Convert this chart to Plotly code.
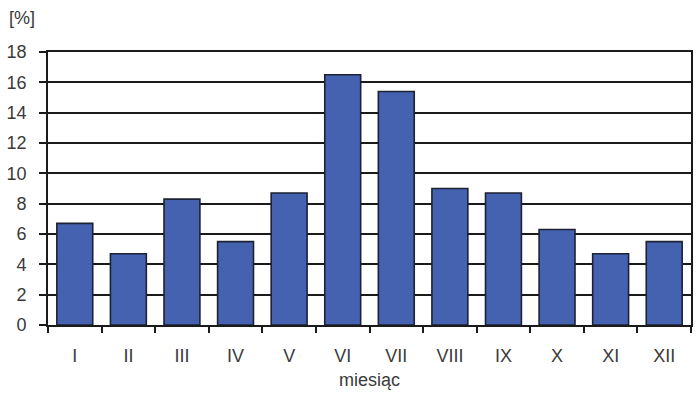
import plotly.graph_objects as go

months = ["I", "II", "III", "IV", "V", "VI", "VII", "VIII", "IX", "X", "XI", "XII"]
values = [6.7, 4.7, 8.3, 5.5, 8.7, 16.5, 15.4, 9.0, 8.7, 6.3, 4.7, 5.5]
y_ticks = [0, 2, 4, 6, 8, 10, 12, 14, 16, 18]

fig = go.Figure()
fig.add_trace(go.Bar(
    x=months, y=values,
    marker=dict(color="#4462B0", line=dict(color="#1c2233", width=1.6)),
    width=0.67,
))

font_color = "#3a3a3a"
fs = 18
fig.update_layout(
    width=700, height=402,
    margin=dict(l=48, r=7, t=52, b=77),
    paper_bgcolor="white", plot_bgcolor="white",
    showlegend=False,
    font=dict(family="Liberation Sans, Arial, sans-serif", size=fs, color=font_color),
    xaxis=dict(
        showline=True, linecolor="#1a1a1a", linewidth=1.6,
        ticks="outside", tickson="boundaries", ticklen=6, tickcolor="#1a1a1a", tickwidth=1.6,
        tickfont=dict(size=fs, color=font_color), ticklabelstandoff=14,
        showgrid=False, mirror=True,
        title=dict(text="miesiąc", font=dict(size=fs, color=font_color), standoff=8),
    ),
    yaxis=dict(
        range=[0, 18], tickvals=y_ticks,
        showline=True, linecolor="#1a1a1a", linewidth=1.6, mirror=True,
        ticks="outside", ticklen=7, tickcolor="#1a1a1a", tickwidth=1.6,
        ticklabelstandoff=9,
        showgrid=True, gridcolor="#1a1a1a", gridwidth=1.6,
        tickfont=dict(size=fs, color=font_color),
        zeroline=False,
    ),
    annotations=[dict(
        text="[%]", xref="paper", yref="paper", x=-0.064, y=1.125,
        xanchor="left", yanchor="middle", showarrow=False,
        font=dict(size=fs, color=font_color),
    )],
    bargap=0.33,
)

fig.write_html("out.html")
